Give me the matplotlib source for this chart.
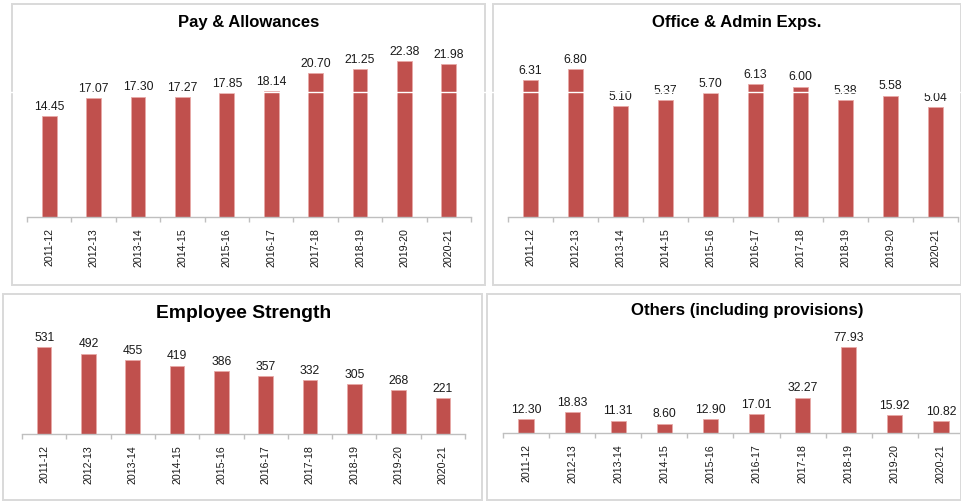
import matplotlib
matplotlib.use("Agg")
import matplotlib.pyplot as plt
from matplotlib.patches import Rectangle
from matplotlib.lines import Line2D
import numpy as np

plt.rcParams['font.family'] = ['Liberation Sans', 'DejaVu Sans']

years = ["2011-12", "2012-13", "2013-14", "2014-15", "2015-16",
         "2016-17", "2017-18", "2018-19", "2019-20", "2020-21"]
pay_allowances = [14.45, 17.07, 17.30, 17.27, 17.85, 18.14, 20.70, 21.25, 22.38, 21.98]
office_admin = [6.31, 6.80, 5.10, 5.37, 5.70, 6.13, 6.00, 5.38, 5.58, 5.04]
employee_strength = [531, 492, 455, 419, 386, 357, 332, 305, 268, 221]
others = [12.30, 18.83, 11.31, 8.60, 12.90, 17.01, 32.27, 77.93, 15.92, 10.82]

W, H = 962, 502
fig = plt.figure(figsize=(W / 100, H / 100), dpi=100)

BAR = "#C0504D"
EDGE = "#E8A9A7"


def px(x0, y0, x1, y1):
    return [x0 / W, 1 - y1 / H, (x1 - x0) / W, (y1 - y0) / H]


# panel borders
for (x0, y0, x1, y1) in [(12, 5, 485, 286), (493, 5, 961, 286),
                         (3, 295, 482, 501), (487, 295, 961, 501)]:
    fig.add_artist(Rectangle((x0 / W, 1 - y1 / H), (x1 - x0) / W, (y1 - y0) / H,
                             transform=fig.transFigure, fill=False,
                             edgecolor="#D9D9D9", linewidth=1.4))


def panel(rect, values, ymax, fmt, title, title_xy, title_size):
    ax = fig.add_axes(rect)
    x = np.arange(len(values))
    bars = ax.bar(x, values, width=0.33, color=BAR, edgecolor=EDGE, linewidth=0.6, zorder=2)
    ax.set_xlim(-0.5, len(values) - 0.5)
    ax.set_ylim(0, ymax)
    for s in ["top", "right", "left"]:
        ax.spines[s].set_visible(False)
    ax.spines["bottom"].set_color("#BFBFBF")
    ax.spines["bottom"].set_linewidth(1.0)
    ax.set_yticks([])
    ax.set_xticks(x)
    ax.set_xticklabels(years, rotation=90, fontsize=7.7, color="#1a1a1a")
    ax.tick_params(axis="x", which="major", length=0, pad=7.5)
    ax.set_xticks(np.arange(len(values) + 1) - 0.5, minor=True)
    ax.tick_params(axis="x", which="minor", length=3.5, color="#BFBFBF", width=1.0)
    ax.patch.set_alpha(0)
    for b, v in zip(bars, values):
        ax.annotate(fmt.format(v), (b.get_x() + b.get_width() / 2, v),
                    xytext=(0, 3), textcoords="offset points",
                    ha="center", va="bottom", fontsize=8.7, color="#1a1a1a")
    fig.text(title_xy[0] / W, 1 - title_xy[1] / H, title, ha="center", va="center",
             fontsize=title_size, fontweight="bold", color="black")
    return ax


panel(px(27, 44, 471, 218), pay_allowances, 25, "{:.2f}", "Pay & Allowances", (249, 22), 12)
panel(px(508, 44, 958, 218), office_admin, 8, "{:.2f}", "Office & Admin Exps.", (737, 22), 12.1)
panel(px(22, 337, 465, 435), employee_strength, 600, "{:d}", "Employee Strength", (244, 314), 13.9)
panel(px(503, 335, 964, 434), others, 90, "{:.2f}", "Others (including provisions)", (747, 310), 12.1)

# faint white horizontal artifact line across top panels
fig.add_artist(Line2D([0.0, 1.0], [1 - 93 / H, 1 - 93 / H], transform=fig.transFigure,
                      color="white", linewidth=1.0, zorder=5))

fig.savefig("out.png", dpi=100)
